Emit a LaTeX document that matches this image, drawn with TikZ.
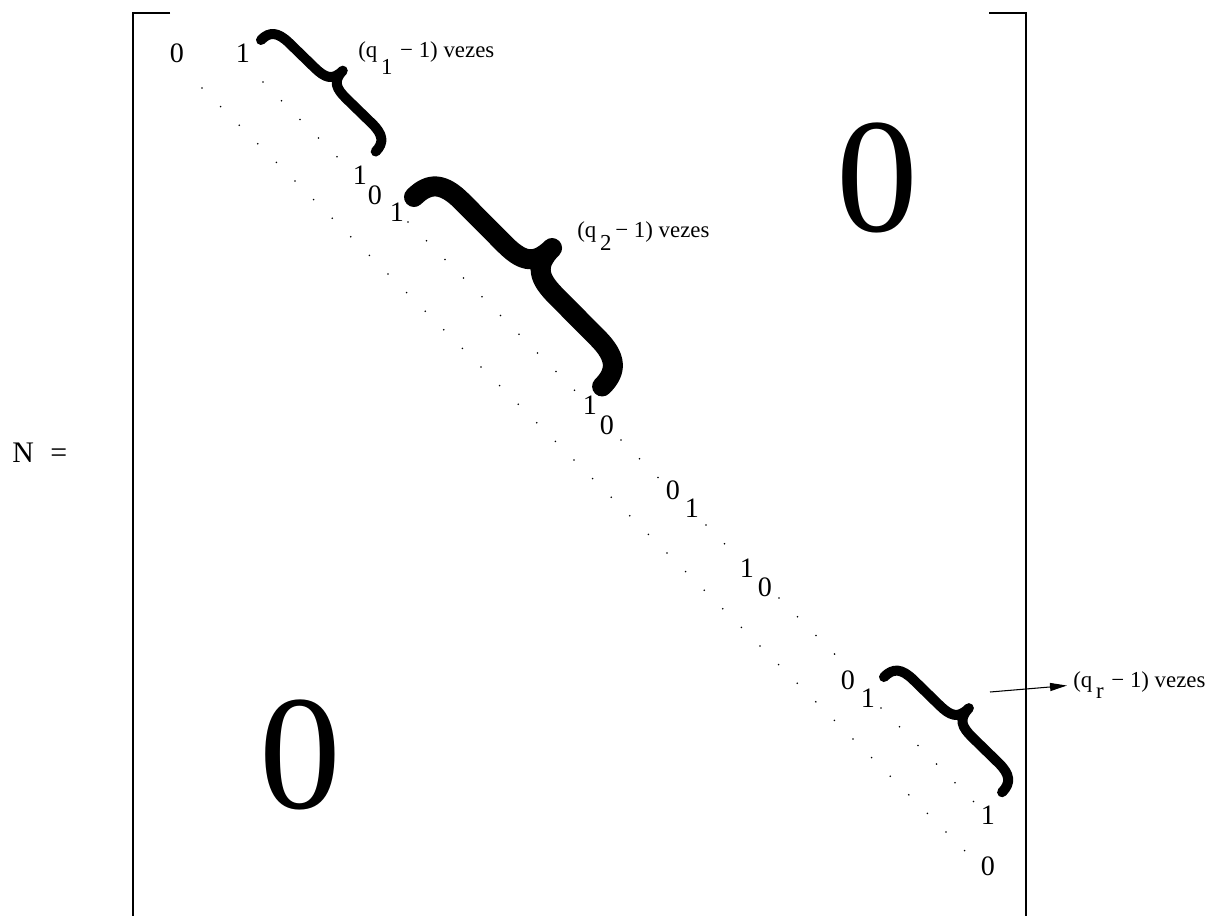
\documentclass[tikz,border=0pt]{standalone}
\usepackage{fontspec}
\setmainfont{Liberation Serif}
\usetikzlibrary{arrows.meta}

\tikzset{
  entry/.style={inner sep=0pt, font=\fontsize{16}{19}\selectfont},
  bigzero/.style={inner sep=0pt, font=\fontsize{93}{100}\selectfont},
  vezes/.style={inner sep=0pt, anchor=base west, font=\fontsize{13}{15}\selectfont},
  bracket/.style={line width=1.1pt},
  pics/fatbrace/.style args={#1/#2}{code={
    \draw[line cap=round, line join=round]
      (0,0) .. controls (0,-0.35*#2) and (0.04*#1,-0.5*#2) .. (0.14*#1,-0.5*#2)
      -- (0.36*#1,-0.5*#2) .. controls (0.45*#1,-0.5*#2) and (0.5*#1,-0.58*#2) .. (0.5*#1,-#2)
      .. controls (0.5*#1,-0.58*#2) and (0.55*#1,-0.5*#2) .. (0.64*#1,-0.5*#2)
      -- (0.86*#1,-0.5*#2) .. controls (0.96*#1,-0.5*#2) and (#1,-0.35*#2) .. (#1,0);
  }},
}

\begin{document}
\begin{tikzpicture}[x=0.02cm, y=-0.02cm]
  % Fix the page size
  \useasboundingbox (0,0) rectangle (1213,916);
  % Matrix name
  \node[vezes, font=\fontsize{17}{19}\selectfont] (name) at (12,462) {N\hspace{0.55em}=};
  % Draw brackets
  \draw[bracket] (170,13) -- (133,13) -- (133,916);
  \draw[bracket] (989,13) -- (1026,13) -- (1026,916);
  % Add diagonal entries
  \node[entry] (e1) at (177,53) {0};
  \node[entry] (e2) at (243,53) {1};
  \node[entry] (e3) at (360,175) {1};
  \node[entry] (e4) at (375,195) {0};
  \node[entry] (e5) at (397,212) {1};
  \node[entry] (e6) at (590,405) {1};
  \node[entry] (e7) at (607,425) {0};
  \node[entry] (e8) at (673,490) {0};
  \node[entry] (e9) at (692,508) {1};
  \node[entry] (e10) at (747,568) {1};
  \node[entry] (e11) at (765,587) {0};
  \node[entry] (e12) at (848,680) {0};
  \node[entry] (e13) at (868,698) {1};
  \node[entry] (e14) at (988,815) {1};
  \node[entry] (e15) at (988,866) {0};
  % Add big zero blocks
  \node[bigzero] (zeroUp) at (877,178) {0};
  \node[bigzero] (zeroLow) at (300,755) {0};
  % Draw dots of main diagonal
  \foreach \i in {0,...,41}
    \fill (202+\i*18.6, 88+\i*18.6) circle (0.5pt);
  % Draw dots of upper diagonal
  \foreach \sx/\sy/\n in {263/82/4, 408/222/9, 621/440/2, 706/525/1, 779/598/3, 881/708/5}
    \foreach \i in {0,...,\n}
      \fill (\sx+\i*18.5, \sy+\i*18.7) circle (0.5pt);
  % Draw braces
  \coordinate (b1s) at (261,40);
  \pic[rotate=-44.2, line width=5.7pt] at (b1s) {fatbrace=160/35};
  \coordinate (b2s) at (414,197);
  \pic[rotate=-45.2, line width=11.4pt] at (b2s) {fatbrace=267/62};
  \coordinate (b3s) at (884,677);
  \pic[rotate=-44.3, line width=5.7pt] at (b3s) {fatbrace=165/37};
  % Add brace labels
  \node[vezes] (label1) at (358,57) {(q\,\raisebox{-9.7pt}{1}\,\,− 1) vezes};
  \node[vezes] (label2) at (577,237) {(q\,\raisebox{-7.4pt}{2}\,− 1) vezes};
  \node[vezes] (label3) at (1073,687) {(q\,\raisebox{-6.8pt}{r}\,\,− 1) vezes};
  % Arrow to last label
  \coordinate (arrStart) at (990,692);
  \draw[line width=0.6pt, -{Triangle[length=0.34cm, width=0.16cm]}, shorten >=0.12cm] (arrStart) -- (label3.west);
\end{tikzpicture}
\end{document}
